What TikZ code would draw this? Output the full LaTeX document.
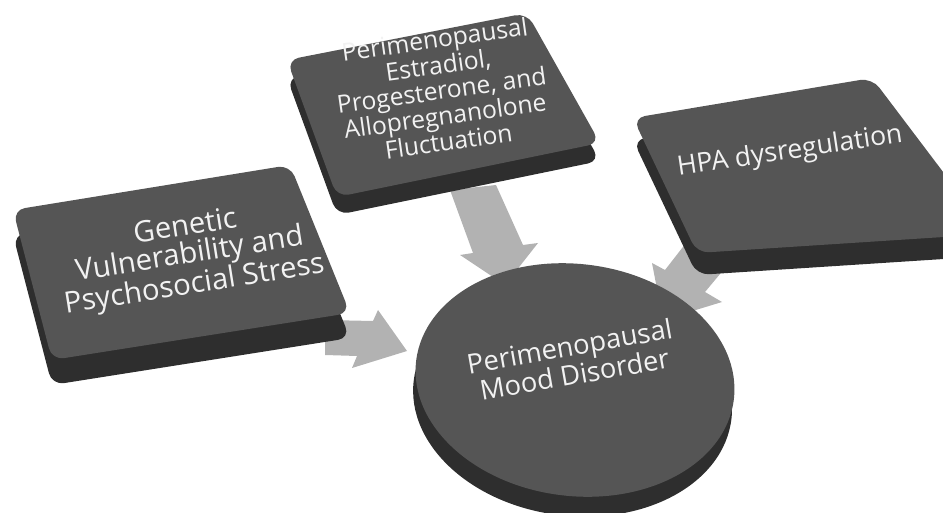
\documentclass[tikz,border=0pt]{standalone}
\usepackage{fontspec}
\setmainfont{Open Sans}
\usetikzlibrary{calc}
\definecolor{facegray}{HTML}{555555}
\definecolor{sidegray}{HTML}{2E2E2E}
\definecolor{arrowgray}{HTML}{B2B2B2}
\definecolor{textwhite}{HTML}{F2F2F2}
\begin{document}
\begin{tikzpicture}[x=0.75pt,y=-0.75pt,
  topface/.style={fill=facegray, rounded corners=9pt},
  sideface/.style={fill=sidegray, rounded corners=9pt},
  blockarrow/.style={fill=arrowgray},
  lbl/.style={text=textwhite, align=center, inner sep=0pt},
  midline/.style={lbl, rotate=8, font=\fontsize{18.5}{19.5}\selectfont, text height=13.5pt, text depth=4pt}]
\useasboundingbox (0,0) rectangle (943,513);
\clip (0,0) rectangle (943,513);

% named points
\coordinate (gA) at (13,210); \coordinate (gB) at (290,165);
\coordinate (gC) at (350,313); \coordinate (gD) at (52,360);
\coordinate (mA) at (287,60); \coordinate (mB) at (527,13);
\coordinate (mC) at (600,143); \coordinate (mD) at (337,197);
\coordinate (hA) at (633,118); \coordinate (hB) at (872,78);
\coordinate (hC) at (990,234); \coordinate (hD) at (697,253);
\coordinate (cc) at (575,380);

% block arrows
\fill[blockarrow] (325,320) -- (373,321) -- (378,310) -- (407,351) -- (352,368) -- (357,356) -- (325,355) -- cycle;
\fill[blockarrow] (450,190) -- (496,185) -- (523,245) -- (538,243) -- (505,285) -- (460,255) -- (473,253) -- cycle;
\fill[blockarrow] (700,225) -- (740,250) -- (705,292) -- (722,302) -- (663,320) -- (652,263) -- (665,270) -- cycle;

% left box
\fill[sideface] ($(gA)+(0,25)$) -- ($(gB)+(0,25)$) -- ($(gC)+(0,25)$) -- ($(gD)+(0,25)$) -- cycle;
\fill[topface] (gA) -- (gB) -- (gC) -- (gD) -- cycle;
% middle box
\fill[sideface] ($(mA)+(0,18)$) -- ($(mB)+(0,18)$) -- ($(mC)+(0,18)$) -- ($(mD)+(0,18)$) -- cycle;
\fill[topface] (mA) -- (mB) -- (mC) -- (mD) -- cycle;
% right box
\fill[sideface] ($(hA)+(0,22)$) -- ($(hB)+(0,22)$) -- ($(hC)+(0,22)$) -- ($(hD)+(0,22)$) -- cycle;
\fill[topface] (hA) -- (hB) -- (hC) -- (hD) -- cycle;

% disc
\fill[sidegray, rotate around={-7:($(cc)+(0,20)$)}] ($(cc)+(0,20)$) ellipse [x radius=120pt, y radius=87pt];
\fill[facegray, rotate around={-7:(cc)}] (cc) ellipse [x radius=120pt, y radius=87pt];

% labels
\node[lbl, rotate=9, font=\fontsize{22}{21}\selectfont] (g) at (190,257) {Genetic\\Vulnerability and\\Psychosocial Stress};
\node[midline] (m1) at (435,42) {Perimenopausal};
\node[midline] (m2) at (438.5,67.5) {Estradiol,};
\node[midline] (m3) at (442,93) {Progesterone, and};
\node[midline] (m4) at (445.5,118.5) {Allopregnanolone};
\node[midline] (m5) at (449,144) {Fluctuation};
\node[lbl, rotate=8.5, font=\fontsize{20}{22}\selectfont] (h) at (790,152) {HPA dysregulation};
\node[lbl, rotate=10, font=\fontsize{20.5}{18.5}\selectfont] (c) at (572,360) {Perimenopausal\\Mood Disorder};
\end{tikzpicture}
\end{document}
